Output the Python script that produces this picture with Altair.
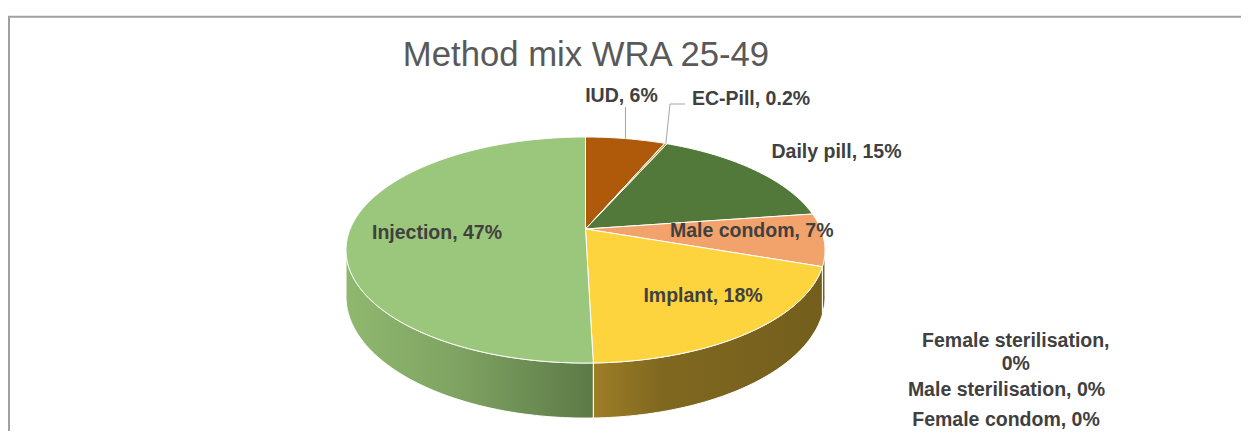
import math
import pandas as pd
import altair as alt

# ---------------- data ----------------
methods = ["IUD", "EC-Pill", "Daily pill", "Male condom", "Implant",
           "Female sterilisation", "Male sterilisation", "Female condom", "Injection"]
shares = [6, 0.2, 15, 7, 18, 0, 0, 0, 47]
share_text = ["6%", "0.2%", "15%", "7%", "18%", "0%", "0%", "0%", "47%"]
title_text = "Method mix WRA 25-49"

# ---------------- styles / layout ----------------
top_colors = {
    "IUD": "#AE5A0A", "EC-Pill": "#D8A94A", "Daily pill": "#53793A",
    "Male condom": "#F2A36B", "Implant": "#FDD33E", "Injection": "#9BC77C",
}
side_stops = {
    "Injection": [("#8FB86E", 0.0), ("#7FA362", 0.45), ("#5C7A46", 1.0)],
    "Implant": [("#9C7E25", 0.0), ("#806820", 0.3), ("#735E1C", 1.0)],
    "Male condom": [("#7A6420", 0.0), ("#735E1C", 1.0)],
    "Daily pill": [("#3E5C2B", 0.0), ("#3E5C2B", 1.0)],
    "IUD": [("#7E4108", 0.0), ("#7E4108", 1.0)],
    "EC-Pill": [("#A07C35", 0.0), ("#A07C35", 1.0)],
}
W, H = 1233, 423
CX, CY = 577.5, 221.0
RX, RY = 235.3, 109.1
PERSP = 0.186
DEPTH = 44.8
LABEL_FONT = "Liberation Sans"
LABEL_COLOR = "#404040"

label_pos = {
    "IUD": (613.5, 93.7), "EC-Pill": (743, 97), "Daily pill": (828.5, 150.3),
    "Male condom": (743.7, 228.7), "Implant": (695, 294.3),
    "Female sterilisation": (1007.8, 339), "Male sterilisation": (998.5, 388),
    "Female condom": (998, 417.5), "Injection": (429, 231.3),
}
leader_start = {"IUD": [(617.5, 99)], "EC-Pill": [(677, 96), (662, 96)]}


def proj(theta, r=1.0, drop=0.0):
    t = math.radians(theta)
    a = r * math.sin(t)
    b = -r * math.cos(t)
    s = 1.0 / (1.0 - PERSP * b)
    return CX + RX * a * s, CY + (RY * b + drop) * s


def arc(t0, t1, drop=0.0):
    n = max(2, int(math.ceil((t1 - t0) / 0.5)) + 1)
    return [proj(t0 + (t1 - t0) * k / (n - 1), 1.0, drop) for k in range(n)]


total = sum(shares)
starts, ends, acc = [], [], 0.0
for v in shares:
    starts.append(acc / total * 360.0)
    acc += v
    ends.append(acc / total * 360.0)

sil = math.degrees(math.acos(-PERSP))
side_lo, side_hi = sil, 360.0 - sil

xs = alt.X("x:Q", scale=alt.Scale(domain=[0, W], nice=False, zero=False), axis=None)
ys = alt.Y("y:Q", scale=alt.Scale(domain=[H, 0], nice=False, zero=False), axis=None)


def poly_layer(pts, fill):
    df = pd.DataFrame({"k": list(range(len(pts))),
                       "x": [p[0] for p in pts], "y": [p[1] for p in pts]})
    return alt.Chart(df).mark_line(fill=fill, stroke="white", strokeWidth=1,
                                   strokeJoin="round").encode(x=xs, y=ys, order="k:Q")


side_layers, top_layers = [], []
for m, v, t0, t1 in zip(methods, shares, starts, ends):
    if v <= 0:
        continue
    center = proj(0, 0.0)
    top_layers.append(poly_layer([center] + arc(t0, t1) + [center], top_colors[m]))
    lo, hi = max(t0, side_lo), min(t1, side_hi)
    if hi > lo:
        upper = arc(lo, hi)
        lower = arc(lo, hi, DEPTH)[::-1]
        grad = alt.LinearGradient(
            gradient="linear", x1=0, x2=1, y1=0, y2=0,
            stops=[alt.GradientStop(color=c, offset=o) for c, o in side_stops[m]])
        side_layers.append(poly_layer(upper + lower + [upper[0]], grad))

# labels
lab_df = pd.DataFrame({
    "text": [f"{m}, {t}" if m != "Female sterilisation" else f"{m},\n{t}"
             for m, t in zip(methods, share_text)],
    "x": [label_pos[m][0] for m in methods],
    "y": [label_pos[m][1] for m in methods],
})
labels = alt.Chart(lab_df).mark_text(
    font=LABEL_FONT, fontSize=19.5, fontWeight="bold", color=LABEL_COLOR,
    align="center", baseline="alphabetic", lineBreak="\n", lineHeight=22.7
).encode(x=xs, y=ys, text="text:N")

# leader lines
lead_layers = []
for m, pts in leader_start.items():
    i = methods.index(m)
    mid = (starts[i] + ends[i]) / 2.0
    path = pts + [proj(mid, 1.0)]
    df = pd.DataFrame({"k": list(range(len(path))),
                       "x": [p[0] for p in path], "y": [p[1] for p in path]})
    lead_layers.append(alt.Chart(df).mark_line(color="#A6A6A6", strokeWidth=1)
                       .encode(x=xs, y=ys, order="k:Q"))

title = alt.Chart(pd.DataFrame({"t": [title_text], "x": [578.0], "y": [58.0]})).mark_text(
    font=LABEL_FONT, fontSize=34.7, color="#595959", align="center", baseline="alphabetic"
).encode(x=xs, y=ys, text="t:N")

border_top = alt.Chart(pd.DataFrame({"a": [0]})).mark_rule(color="#A0A0A0", strokeWidth=2).encode(
    x=alt.value(0), x2=alt.value(W), y=alt.value(8.7))
border_left = alt.Chart(pd.DataFrame({"a": [0]})).mark_rule(color="#A0A0A0", strokeWidth=2).encode(
    x=alt.value(1), y=alt.value(8.7), y2=alt.value(H))

chart = alt.layer(
    border_top, border_left, *side_layers, *top_layers, *lead_layers, labels, title
).properties(
    width=W, height=H, padding=0, autosize="none", background="white"
).configure_view(stroke=None)

chart.save("out.html", embed_options={"renderer": "svg", "actions": False})
